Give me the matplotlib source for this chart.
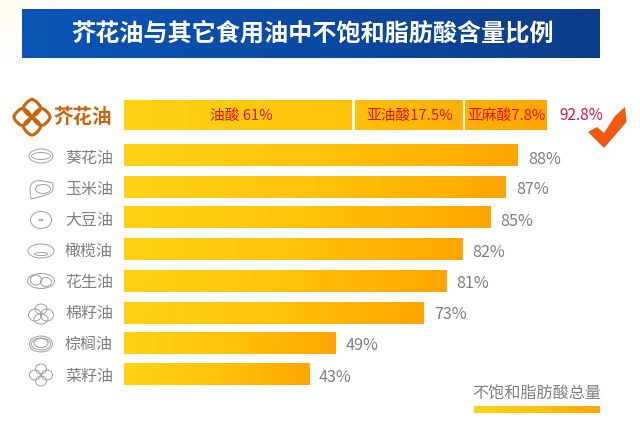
import numpy as np
import matplotlib
matplotlib.use('Agg')
import matplotlib.pyplot as plt
from matplotlib.colors import LinearSegmentedColormap
from matplotlib.patches import Ellipse, Polygon, Rectangle, PathPatch
from matplotlib.path import Path

plt.rcParams['font.family'] = ['Noto Sans CJK SC', 'DejaVu Sans']

title = '芥花油与其它食用油中不饱和脂肪酸含量比例'
oils = ['葵花油', '玉米油', '大豆油', '橄榄油', '花生油', '棉籽油', '棕榈油', '菜籽油']
oil_labels = ['88%', '87%', '85%', '82%', '81%', '73%', '49%', '43%']
# Drawn bar lengths (the source bars are not proportional to their labels)
oil_lengths = [86.4, 83.8, 80.3, 74.3, 70.8, 65.8, 46.5, 40.6]
top_name = '芥花油'
top_total = '92.8%'
top_labels = ['油酸 61%', '亚油酸17.5%', '亚麻酸7.8%']
top_lengths = [50.35, 24.2, 18.25]
legend_label = '不饱和脂肪酸总量'

# layout, in figure pixels
W, H = 640, 421
X0 = 124
PX = 423 / 92.8
tops = [144, 176, 206, 238, 270, 302, 332, 363]
name_y = [158.5, 189.5, 220.5, 251.5, 282.5, 313.5, 344.5, 376]
value_y = [159, 190, 221, 252.5, 283.5, 314.5, 345.5, 378]
top_text_shift = [3, 1, 1.5]
BAR_H = 22

fig = plt.figure(figsize=(W / 100, H / 100), dpi=100, facecolor='white')
ax = fig.add_axes([0, 0, 1, 1])
ax.set_xlim(0, W)
ax.set_ylim(H, 0)
ax.axis('off')

cm_bar = LinearSegmentedColormap.from_list('bar', ['#FFD414', '#FFC30A', '#FFA600'])
cm_blue = LinearSegmentedColormap.from_list('blue', ['#0B55B5', '#0A4AA5', '#0C3C88'])
grad = np.linspace(0, 1, 256).reshape(1, -1)


def gbar(x0, x1, y0, y1, cmap=cm_bar, z=2):
    ax.imshow(grad, extent=(x0, x1, y1, y0), cmap=cmap, aspect='auto', zorder=z, interpolation='bilinear')


# faint warm corner, fading to white
yy, xx = np.mgrid[0:1:64j, 0:1:64j]
ax.imshow(np.clip(1 - np.hypot(xx, yy), 0, 1), extent=(0, 60, 60, 0),
          cmap=LinearSegmentedColormap.from_list('c', ['#FFFFFF', '#FFFBEE']), aspect='auto', zorder=0)

# title band
gbar(22, 600, 9, 58, cm_blue)
ax.text(312, 34, title, color='white', fontsize=17.4, fontweight='bold', ha='center', va='center', zorder=3)

# top bar
gbar(X0, X0 + sum(top_lengths) * PX, 100, 130)
edge = X0
for i, (ln, t, dx) in enumerate(zip(top_lengths, top_labels, top_text_shift)):
    ax.text(edge + ln * PX / 2 + dx, 115.5, t, color='#E0140C', fontsize=10.6, ha='center', va='center', zorder=4)
    edge += ln * PX
    if i < 2:
        ax.add_patch(Rectangle((edge - 1.2, 100), 2.4, 30, color='white', lw=0, zorder=3))
ax.text(559, 115.5, top_total, color='#D8134A', fontsize=11, ha='left', va='center', zorder=4)
ax.text(82.5, 117.5, top_name, color='#C9650E', fontsize=14, fontweight='bold', ha='center', va='center', zorder=4)

# other bars
for name, lab, ln, t, ny, vy in zip(oils, oil_labels, oil_lengths, tops, name_y, value_y):
    x1 = X0 + ln * PX
    gbar(X0, x1, t, t + BAR_H)
    ax.text(89, ny, name, color='#808080', fontsize=11.5, ha='center', va='center', zorder=4)
    ax.text(x1 + 10, vy, lab, color='#808080', fontsize=11.6, ha='left', va='center', zorder=4)

# legend
ax.text(537, 393, legend_label, color='#808080', fontsize=11.6, ha='center', va='center', zorder=4)
gbar(474, 600, 406, 413)

# check mark
ax.add_patch(Polygon([(625, 107), (626.5, 122), (604, 148), (588, 132), (597, 127), (604, 133), (615, 116)],
                     closed=True, color='#F0590F', lw=0, zorder=4))

# top icon: four rounded diamonds
ic = '#C9650E'
theta = np.linspace(0, 2 * np.pi, 80)
P = 1.45
for cx, cy in [(32, 108), (32, 126.5), (22.5, 117), (41.5, 117)]:
    px = 8.6 * np.sign(np.cos(theta)) * np.abs(np.cos(theta)) ** (2 / P)
    py = 8.6 * np.sign(np.sin(theta)) * np.abs(np.sin(theta)) ** (2 / P)
    ax.add_patch(Polygon(np.column_stack([cx + px, cy + py]), closed=True,
                         fill=False, ec=ic, lw=2.2, zorder=4))

# oil icons
g = '#A0A0A0'
lw = 0.7


def e(cx, cy, w, h, angle=0):
    ax.add_patch(Ellipse((cx, cy), w, h, angle=angle, fill=False, ec=g, lw=lw, zorder=4))


e(41, 156, 24, 14); e(41, 156, 19, 7)
# corn kernel: rounded triangle
ax.add_patch(PathPatch(Path([(30, 190), (30, 178), (40, 180), (53, 183), (53, 189), (53, 195), (38, 197), (31, 199), (30, 190)],
                            [Path.MOVETO, Path.CURVE4, Path.CURVE4, Path.CURVE4,
                             Path.LINETO, Path.CURVE4, Path.CURVE4, Path.CURVE4, Path.CLOSEPOLY]),
                       fill=False, ec=g, lw=lw, zorder=4))
e(43, 189, 15, 9)
e(41, 220, 21, 17); e(41, 220, 4, 1.5)
e(41, 251, 26, 14); e(41, 254, 13, 3)
e(41, 281, 27, 15); e(36, 280, 11, 10); e(46, 282, 11, 9)
for cx, cy, w, h in [(41, 309, 12, 10), (35, 315, 13, 12), (47, 315, 13, 12), (41, 319, 14, 10)]:
    e(cx, cy, w, h)
e(41, 344, 23, 16); e(41, 343, 14, 9); e(41, 344, 19, 12)
for cx, cy in [(41, 369), (41, 381), (35, 375), (47, 375)]:
    e(cx, cy, 11, 10)

ax.set_xlim(0, W)
ax.set_ylim(H, 0)
fig.savefig('out.png', dpi=100)
